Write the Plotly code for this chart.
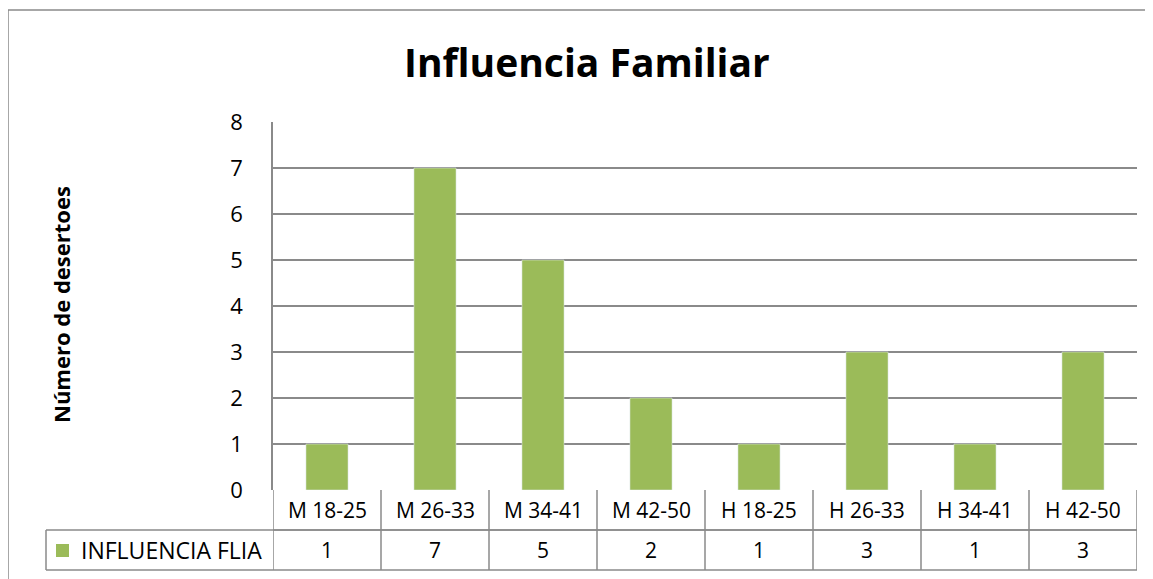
import plotly.graph_objects as go

categories = ["M 18-25", "M 26-33", "M 34-41", "M 42-50", "H 18-25", "H 26-33", "H 34-41", "H 42-50"]
values = [1, 7, 5, 2, 1, 3, 1, 3]
series_name = "INFLUENCIA FLIA"
title_text = "Influencia Familiar"
y_title = "Número de desertoes"
y_ticks = [0, 1, 2, 3, 4, 5, 6, 7, 8]

GREEN = "#9BBB59"
GRID = "#8A8A8A"
FONT = "Open Sans"

# page body has an 8px margin; screen coords are converted to figure coords
OX, OY = 8, 8
W, H = 1153, 579
L = 273 - OX
T = 122 - OY
R = W - (1137 - OX)
B = H - (490 - OY)
PW = W - L - R
PH = H - T - B

def px_x(px):
    return (px - OX - L) / PW

def px_y(py):
    return (H - B - (py - OY)) / PH

n = len(categories)
fig = go.Figure()
fig.add_trace(go.Bar(x=list(range(n)), y=values, marker_color=GREEN, width=0.39,
                     name=series_name, showlegend=False))

shapes = []
row1_bot = px_y(530)
row2_bot = px_y(570)
LW = 1.5
shapes.append(dict(type="line", xref="x", yref="paper", x0=-0.5, x1=n - 0.5, y0=row1_bot, y1=row1_bot,
                   line=dict(color=GRID, width=LW)))
shapes.append(dict(type="line", xref="paper", yref="paper", x0=px_x(46), x1=1, y0=row1_bot, y1=row1_bot,
                   line=dict(color=GRID, width=LW)))
shapes.append(dict(type="line", xref="paper", yref="paper", x0=px_x(46), x1=1, y0=row2_bot, y1=row2_bot,
                   line=dict(color=GRID, width=LW)))
shapes.append(dict(type="line", xref="paper", yref="paper", x0=px_x(46), x1=px_x(46), y0=row1_bot, y1=row2_bot,
                   line=dict(color=GRID, width=LW)))
for i in range(n + 1):
    shapes.append(dict(type="line", xref="x", yref="paper", x0=i - 0.5, x1=i - 0.5, y0=0, y1=row2_bot,
                       line=dict(color=GRID, width=LW)))
shapes.append(dict(type="rect", xref="paper", yref="paper", x0=px_x(56), x1=px_x(69), y0=px_y(557), y1=px_y(544),
                   fillcolor=GREEN, line=dict(width=0)))
shapes.append(dict(type="rect", xref="paper", yref="paper", x0=px_x(8), x1=px_x(1175), y0=px_y(600), y1=px_y(10),
                   line=dict(color=GRID, width=LW), fillcolor="rgba(0,0,0,0)"))

annotations = []
for i, (c, v) in enumerate(zip(categories, values)):
    annotations.append(dict(x=i, y=(0 + row1_bot) / 2, xref="x", yref="paper", text=c, showarrow=False,
                            font=dict(family=FONT, size=21, color="#000"), yanchor="middle"))
    annotations.append(dict(x=i, y=(row1_bot + row2_bot) / 2, xref="x", yref="paper", text=str(v), showarrow=False,
                            font=dict(family=FONT, size=21, color="#000"), yanchor="middle"))
annotations.append(dict(x=px_x(79), y=(row1_bot + row2_bot) / 2, xref="paper", yref="paper", text=series_name,
                        showarrow=False, xanchor="left", yanchor="middle",
                        font=dict(family=FONT, size=23, color="#000")))
annotations.append(dict(x=px_x(587), y=px_y(62), xref="paper", yref="paper", text="<b>" + title_text + "</b>",
                        showarrow=False, xanchor="center", yanchor="middle",
                        font=dict(family=FONT, size=39, color="#000")))
annotations.append(dict(x=px_x(61), y=px_y(305), xref="paper", yref="paper", text="<b>" + y_title + "</b>",
                        showarrow=False, textangle=-90, xanchor="center", yanchor="middle",
                        font=dict(family=FONT, size=22, color="#000")))

fig.update_layout(
    width=W, height=H,
    margin=dict(l=L, r=R, t=T, b=B),
    paper_bgcolor="white", plot_bgcolor="white",
    shapes=shapes, annotations=annotations,
    xaxis=dict(range=[-0.5, n - 0.5], showticklabels=False, showgrid=False, zeroline=False,
               showline=False, fixedrange=True),
    yaxis=dict(range=[0, 8], tickvals=y_ticks, showgrid=True, gridcolor=GRID, gridwidth=LW,
               zeroline=False, showline=True, linecolor=GRID, linewidth=LW,
               ticks="", ticklabelstandoff=24,
               tickfont=dict(family=FONT, size=22, color="#000"), fixedrange=True),
    showlegend=False,
)

fig.write_html("out.html")
